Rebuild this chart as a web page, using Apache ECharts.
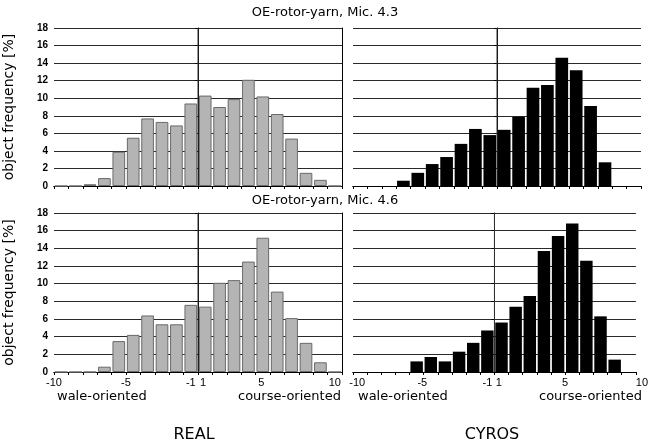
<!DOCTYPE html>
<html>
<head>
<meta charset="utf-8">
<script src="https://cdn.jsdelivr.net/npm/echarts@6/dist/echarts.min.js"></script>
<style>
  html, body { margin: 0; padding: 0; background: #fff; }
  #chart { width: 651px; height: 440px; }
</style>
</head>
<body>
<div id="chart"></div>
<script>
// 20 one-unit bins from -10 to 10
const bins = ['-9.5', '-8.5', '-7.5', '-6.5', '-5.5', '-4.5', '-3.5', '-2.5', '-1.5', '-0.5',
  '0.5', '1.5', '2.5', '3.5', '4.5', '5.5', '6.5', '7.5', '8.5', '9.5']

const real43 = [0, 0, 0.2, 0.9, 3.9, 5.5, 7.7, 7.3, 6.9, 9.4, 10.3, 9.0, 9.9, 12.1, 10.2, 8.2, 5.4, 1.5, 0.7, 0]
const cyros43 = [0, 0, 0, 0.6, 1.5, 2.5, 3.3, 4.8, 6.5, 5.8, 6.4, 7.9, 11.2, 11.5, 14.6, 13.2, 9.1, 2.7, 0, 0]
const real46 = [0, 0, 0, 0.6, 3.5, 4.2, 6.4, 5.4, 5.4, 7.6, 7.4, 10.1, 10.4, 12.5, 15.2, 9.1, 6.1, 3.3, 1.1, 0]
const cyros46 = [0, 0, 0, 0, 1.2, 1.7, 1.2, 2.3, 3.3, 4.7, 5.6, 7.4, 8.6, 13.7, 15.4, 16.8, 12.6, 6.3, 1.4, 0]

const yMin = 0
const yMax = 18
const yStep = 2

// label texts and where they sit on the -10..10 orientation scale
const xTickText = ['-10', '-5', '-1', '1', '5', '10']
const xTickLeft = [-10, -5, -0.5, 0.35, 4.4, 9.5]
const xTickRight = [-9.7, -5.1, -0.5, 0.3, 5, 10]

const panelTitles = ['OE-rotor-yarn, Mic. 4.3', 'OE-rotor-yarn, Mic. 4.6']
const yName = 'object frequency [%]'

const chart = echarts.init(document.getElementById('chart'))

const grids = [
  { left: 54, top: 28, width: 288, height: 158 },
  { left: 353, top: 28, width: 288, height: 158 },
  { left: 54, top: 213, width: 288, height: 159 },
  { left: 353, top: 213, width: 288, height: 159 },
]

const panels = [
  { data: real43, real: true, bottom: false },
  { data: cyros43, real: false, bottom: false },
  { data: real46, real: true, bottom: true },
  { data: cyros46, real: false, bottom: true },
]

const xAxis = []
const yAxis = []
const series = []

panels.forEach((p, i) => {
  const left = p.real
  // bars live on a category axis; its line is the top border
  xAxis.push({
    type: 'category',
    gridIndex: i,
    position: 'top',
    data: bins,
    boundaryGap: true,
    axisLine: { lineStyle: { color: '#000', width: 1 } },
    axisTick: { show: false },
    axisLabel: { show: false },
  })
  const ticks = left ? xTickLeft : xTickRight
  xAxis.push({
    type: 'value',
    gridIndex: i,
    position: 'bottom',
    min: -10,
    max: 10,
    interval: 1,
    axisLine: { onZero: false, lineStyle: { color: '#000', width: 1 } },
    axisTick: { show: true, length: 3, lineStyle: { color: '#000' } },
    splitLine: { show: false },
    axisLabel: {
      show: p.bottom,
      customValues: ticks,
      margin: 5,
      color: '#000',
      fontFamily: 'Liberation Sans',
      fontSize: 11,
      formatter: (v) => {
        const k = ticks.indexOf(v)
        const t = k >= 0 ? xTickText[k] : ''
        return (!left && k === ticks.length - 1) ? '{r|' + t + '}' : t
      },
      rich: { r: { padding: [0, 0, 0, 12], fontSize: 11, fontFamily: 'Liberation Sans', color: '#000' } },
    },
  })

  const yIndex = yAxis.length
  yAxis.push({
    type: 'value',
    gridIndex: i,
    position: 'left',
    min: yMin,
    max: yMax,
    interval: yStep,
    name: left ? yName : '',
    nameLocation: 'middle',
    nameGap: 38,
    nameTextStyle: { fontFamily: 'DejaVu Sans', fontSize: 14, color: '#000' },
    axisLine: { show: true, lineStyle: { color: '#000', width: 1 } },
    axisTick: { show: true, length: 3, lineStyle: { color: '#000' } },
    axisLabel: {
      show: left,
      margin: 6,
      color: '#000',
      fontFamily: 'Liberation Sans',
      fontWeight: 'bold',
      fontSize: 10,
    },
    splitLine: { show: true, lineStyle: { color: '#2a2a2a', width: 1 } },
  })
  if (left) {
    // right border of the left panels
    yAxis.push({
      type: 'value',
      gridIndex: i,
      position: 'right',
      min: yMin,
      max: yMax,
      axisLine: { show: true, lineStyle: { color: '#000', width: 1 } },
      axisTick: { show: false },
      axisLabel: { show: false },
      splitLine: { show: false },
    })
  }

  series.push({
    type: 'bar',
    xAxisIndex: i * 2,
    yAxisIndex: yIndex,
    data: p.data,
    barCategoryGap: '12%',
    itemStyle: p.real
      ? { color: '#b4b4b4', borderColor: '#6a6a6a', borderWidth: 1 }
      : { color: '#000' },
    silent: true,
  })
  // centre line between -1 and 1
  series.push({
    type: 'line',
    xAxisIndex: i * 2 + 1,
    yAxisIndex: yIndex,
    data: [[0, yMin], [0, yMax]],
    symbol: 'none',
    lineStyle: { color: '#333', width: 1 },
    silent: true,
    z: 5,
  })
})

const label = (text, x, y, opts = {}) => ({
  type: 'text',
  x, y,
  style: Object.assign({
    text,
    fill: '#000',
    fontFamily: 'DejaVu Sans',
    fontSize: 13,
    align: 'left',
    verticalAlign: 'middle',
  }, opts),
})

chart.setOption({
  animation: false,
  grid: grids,
  xAxis,
  yAxis,
  series,
  graphic: [
    label(panelTitles[0], 325, 13, { align: 'center', fontSize: 13 }),
    label(panelTitles[1], 325, 201, { align: 'center', fontSize: 13 }),
    label('wale-oriented', 57, 397),
    label('course-oriented', 238, 397),
    label('wale-oriented', 358, 397),
    label('course-oriented', 539, 397),
    label('REAL', 194, 427, { align: 'center', verticalAlign: 'top', fontSize: 16 }),
    label('CYROS', 492, 427, { align: 'center', verticalAlign: 'top', fontSize: 16 }),
  ],
})
</script>
</body>
</html>
